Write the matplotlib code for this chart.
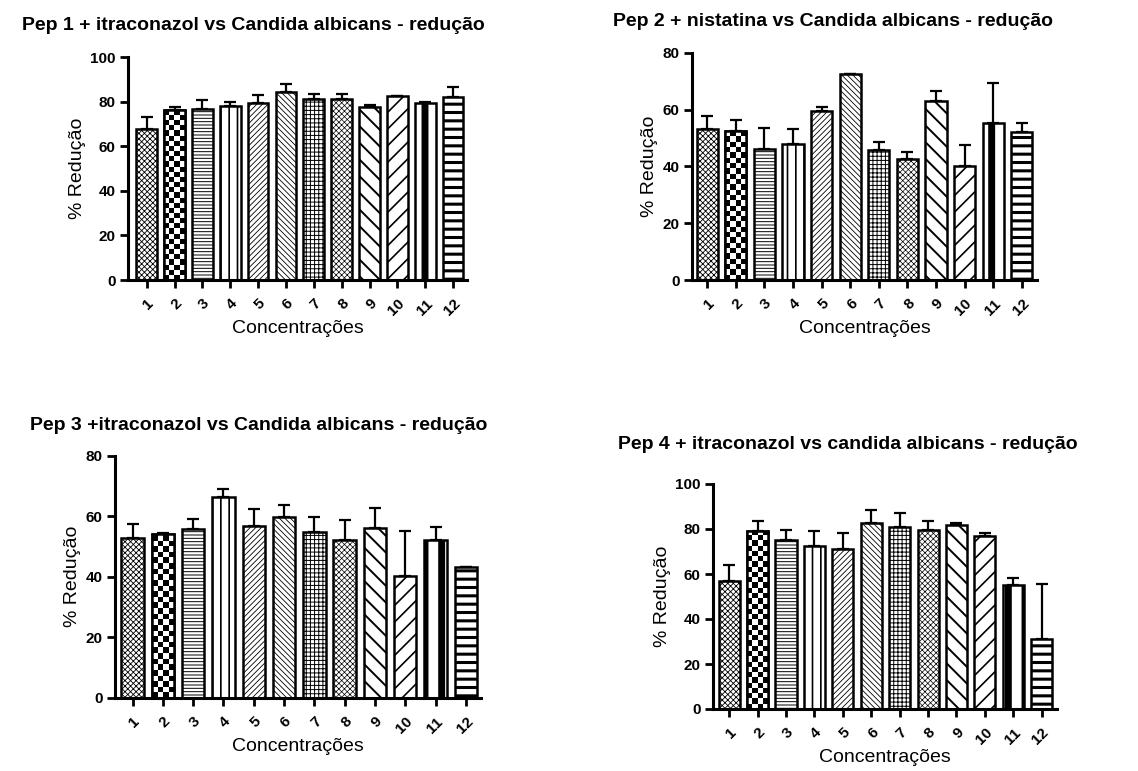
import numpy as np
import matplotlib
matplotlib.use("Agg")
import matplotlib.pyplot as plt

plt.rcParams['font.family'] = ['Liberation Sans', 'DejaVu Sans']

categories = ['1', '2', '3', '4', '5', '6', '7', '8', '9', '10', '11', '12']

titles = [
    "Pep 1 + itraconazol vs Candida albicans - redução",
    "Pep 2 + nistatina vs Candida albicans - redução",
    "Pep 3 +itraconazol vs Candida albicans - redução",
    "Pep 4 + itraconazol vs candida albicans - redução",
]

pep1_mean = [67.7, 76.3, 76.8, 78.1, 79.6, 84.6, 81.4, 81.4, 77.5, 82.8, 79.3, 82.0]
pep1_err = [5.3, 1.5, 4.0, 2.0, 3.3, 3.3, 2.1, 2.1, 1.1, 0.0, 0.5, 4.8]

pep2_mean = [53.1, 52.6, 46.1, 47.7, 59.5, 72.4, 45.7, 42.5, 62.9, 40.2, 55.4, 52.0]
pep2_err = [4.7, 3.6, 7.3, 5.4, 1.5, 0.0, 2.7, 2.7, 3.6, 7.4, 13.8, 3.4]

pep3_mean = [52.7, 54.1, 55.9, 66.4, 56.9, 59.9, 54.7, 52.0, 56.2, 40.2, 52.2, 43.2]
pep3_err = [4.7, 0.3, 3.3, 2.6, 5.5, 3.8, 5.1, 6.7, 6.5, 15.0, 4.1, 0.0]

pep4_mean = [56.8, 79.3, 75.0, 72.3, 71.2, 82.5, 81.1, 79.7, 81.7, 77.1, 55.0, 30.9]
pep4_err = [7.4, 4.4, 4.6, 6.8, 7.2, 6.0, 5.9, 4.0, 1.1, 1.0, 3.4, 24.7]

y_max = [100, 80, 80, 100]
y_ticks = [[0, 20, 40, 60, 80, 100], [0, 20, 40, 60, 80], [0, 20, 40, 60, 80], [0, 20, 40, 60, 80, 100]]

# styles: (hatch, hatch linewidth); 'CHECK' = checkerboard
styles = [
    ('xxxxxx', 0.6),
    ('CHECK', 1.0),
    ('-----', 0.7),
    ('||', 1.2),
    ('//////', 0.6),
    ('\\\\\\\\\\\\', 0.6),
    ('++++', 0.7),
    ('xxxxxx', 0.5),
    ('\\\\', 1.4),
    ('//', 1.2),
    ('|', 5.0),
    ('--', 2.2),
]

W, H = 1138, 771
fig = plt.figure(figsize=(W / 100, H / 100), dpi=100)

# axes boxes in pixels: left, right, bottom(y from top), top(y from top)
boxes = [
    (128, 467, 280, 57.3),
    (692, 1037, 280, 52.7),
    (115, 481, 697.7, 455.7),
    (713, 1057, 709, 484),
]
xlims = [(0.33, 12.5), (0.47, 12.53), (0.42, 12.5), (0.43, 12.54)]
title_pos = [(253, 25), (833, 21), (259, 426), (848, 445)]

means = [pep1_mean, pep2_mean, pep3_mean, pep4_mean]
errs = [pep1_err, pep2_err, pep3_err, pep4_err]

for k in range(4):
    l, r, b, t = boxes[k]
    ax = fig.add_axes([l / W, 1 - b / H, (r - l) / W, (b - t) / H])
    x = np.arange(1, 13)
    ax.set_xlim(*xlims[k])
    ax.set_ylim(0, y_max[k])
    for i in range(12):
        hatch, hlw = styles[i]
        with plt.rc_context({'hatch.linewidth': hlw}):
            bar = ax.bar(x[i], means[k][i], width=0.74, color='white',
                         edgecolor='black', linewidth=1.8,
                         hatch=None if hatch == 'CHECK' else hatch, zorder=2)[0]
        if hasattr(bar, 'set_hatch_linewidth'):
            bar.set_hatch_linewidth(hlw)
        if hatch == 'CHECK':
            x0 = bar.get_x()
            x1 = x0 + bar.get_width()
            h = bar.get_height()
            p0 = ax.transData.transform((x0, 0))
            p1 = ax.transData.transform((x1, h))
            wpx = p1[0] - p0[0]
            hpx = p1[1] - p0[1]
            ncol = 4
            sq = wpx / ncol
            nrow = max(1, int(round(hpx / sq)))
            checker = (np.add.outer(np.arange(nrow), np.arange(ncol)) % 2).astype(float)
            im = ax.imshow(checker, cmap='gray', extent=(x0, x1, 0, nrow * sq * h / hpx),
                           origin='lower', interpolation='nearest', aspect='auto',
                           zorder=2.5, vmin=0, vmax=1)
            im.set_clip_path(bar)
            ax.bar(x[i], means[k][i], width=0.74, color='none',
                   edgecolor='black', linewidth=1.8, zorder=3)
    ax.set_xlim(*xlims[k])
    ax.set_ylim(0, y_max[k])
    lower = np.zeros(12)
    ax.errorbar(x, means[k], yerr=[lower, errs[k]], fmt='none', ecolor='black',
                elinewidth=1.6, capsize=4.5, capthick=1.6, zorder=1)
    for s in ['top', 'right']:
        ax.spines[s].set_visible(False)
    for s in ['left', 'bottom']:
        ax.spines[s].set_linewidth(2.2)
    ax.set_yticks(y_ticks[k])
    ax.set_xticks(x)
    ax.set_xticklabels(categories, rotation=45, ha='right', rotation_mode='anchor',
                       fontsize=11, fontweight='bold')
    for lab in ax.get_yticklabels():
        lab.set_fontsize(11)
        lab.set_fontweight('bold')
    ax.tick_params(axis='both', direction='out', length=6, width=2, pad=3)
    ax.tick_params(axis='x', pad=6)
    ax.set_ylabel('% Redução', fontsize=14, labelpad=3)
    ax.set_xlabel('Concentrações', fontsize=14, labelpad=1)
    tx, ty = title_pos[k]
    fig.text(tx / W, 1 - ty / H, titles[k], ha='center', va='center',
             fontsize=14, fontweight='bold')

fig.savefig('out.png', dpi=100)
